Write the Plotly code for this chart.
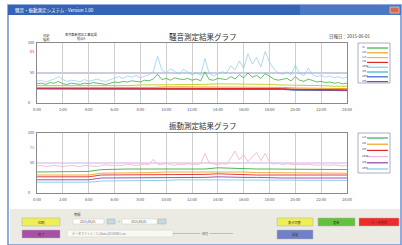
import plotly.graph_objects as go

W, H = 402, 245
FONT = "Noto Sans CJK JP"

# ---------------- data ----------------
tick_hours = [0, 2, 4, 6, 8, 10, 12, 14, 16, 18, 20, 22, 24]
tick_labels = ["0:00", "2:00", "4:00", "6:00", "8:00", "10:00", "12:00",
               "14:00", "16:00", "18:00", "20:00", "22:00", "24:00"]
hours_20min = [i / 3 for i in range(73)]
hours_1h = list(range(25))

noise_names = ["L5", "L50", "L10", "L90", "Lmax", "L95", "Lmin", "Leq"]
noise_colors = ["#3cb043", "#f0a020", "#c8d030", "#e02828", "#8cc8e8", "#30b8c8", "#4060d0", "#9040a8"]

noise_lmax = [36, 38, 35, 37, 40, 44, 39, 36, 38,
              37, 35, 39, 36, 38, 40, 37, 36, 39,
              42, 44, 41, 45, 43, 46, 42, 44, 47,
              52, 78, 55, 50, 57, 53, 48, 56, 51,
              47, 50, 46, 74, 49, 45, 48, 52, 50,
              62, 55, 70, 58, 82, 65, 76, 60, 86,
              68, 57, 50, 48, 52, 47, 63, 49, 46,
              58, 47, 44, 46, 43, 45, 42, 44, 41, 43]
noise_l5 = [32, 33, 31, 34, 33, 36, 32, 31, 33,
            32, 31, 33, 32, 34, 33, 32, 31, 33,
            35, 34, 36, 35, 37, 36, 35, 38, 37,
            40, 48, 39, 41, 38, 42, 40, 39, 41,
            38, 40, 37, 52, 39, 38, 41, 40, 39,
            44, 40, 47, 42, 50, 43, 46, 41, 49,
            45, 40, 38, 39, 41, 37, 44, 38, 36,
            40, 37, 35, 36, 34, 35, 33, 34, 32, 33]
noise_l10 = [29, 29, 28, 28, 28, 28, 29, 29, 30, 30, 31, 31, 31, 31, 32, 32, 32, 31, 31, 30, 30, 29, 29, 28, 28]
noise_l50 = [26, 26, 25, 25, 25, 25, 25, 26, 26, 26, 27, 27, 27, 27, 27, 27, 27, 26, 26, 26, 25, 25, 24, 24, 24]
noise_l90 = [25, 25, 25, 25, 25, 25, 25, 25, 25, 25, 25, 25, 25, 25, 25, 25, 25, 24, 24, 24, 23, 23, 22, 22, 22]
noise_l95 = [24, 24, 24, 24, 24, 24, 24, 24, 24, 24, 24, 24, 24, 24, 24, 24, 24, 23, 23, 23, 22, 22, 21, 21, 21]
noise_lmin = [23.5, 23.5, 23.5, 23.5, 23.5, 23.5, 23.5, 23.5, 23.5, 23.5, 23.5, 23.5, 23.5, 23.5, 23.5, 23.5, 23.5,
              22.5, 22.5, 22.5, 21.5, 21.5, 20.5, 20.5, 20.5]
noise_leq = [24, 24, 24, 24, 24, 24, 24, 24, 24, 24, 24, 24, 24, 24, 24, 24, 24, 23, 23, 23, 22, 22, 21, 21, 21]

vib_names = ["L10", "L50", "L90", "Lmax", "Leq", "Lmin"]
vib_colors = ["#3cb043", "#f0a020", "#e02828", "#f0b8d8", "#9040a8", "#80c8e8"]

vib_lmax = [45, 46, 44, 45, 46, 45, 44, 45, 46,
            45, 44, 46, 45, 45, 44, 46, 47, 46,
            46, 47, 46, 48, 47, 46, 47, 48, 47,
            56, 48, 47, 50, 47, 46, 48, 47, 49,
            48, 47, 49, 66, 50, 48, 47, 49, 48,
            58, 70, 55, 64, 52, 60, 68, 54, 66,
            52, 48, 50, 47, 49, 48, 47, 48, 47,
            48, 47, 46, 47, 46, 46, 47, 46, 45, 46]
vib_l10 = [35, 35, 35, 35, 36, 39, 40, 40, 40, 40, 40, 41, 41, 40, 42, 41, 41, 40, 40, 40, 40, 39, 39, 39, 39]
vib_l50 = [30, 30, 30, 30, 30, 33, 33, 33, 34, 34, 35, 35, 35, 36, 36, 35, 35, 34, 34, 34, 33, 33, 33, 33, 33]
vib_l90 = [27, 27, 27, 27, 27, 30, 30, 30, 30, 31, 31, 31, 31, 31, 32, 31, 31, 30, 30, 30, 30, 30, 30, 30, 30]
vib_leq = [22, 22, 22, 22, 22, 25, 25, 25, 25, 26, 26, 26, 26, 26, 27, 26, 26, 26, 25, 25, 25, 25, 25, 25, 25]
vib_lmin = [18, 18, 18, 18, 18, 20, 20, 20, 21, 21, 21, 22, 22, 22, 22, 22, 22, 22, 21, 21, 21, 21, 21, 21, 21]

noise_limit = 85
vib_limit = 75
ref_level = 50

# ---------------- helpers ----------------
def px(x):
    return x / W

def py(y):
    return 1 - y / H

fig = go.Figure()

noise_series = [noise_l5, noise_l50, noise_l10, noise_l90, noise_lmax, noise_l95, noise_lmin, noise_leq]
noise_x = [hours_20min, hours_1h, hours_1h, hours_1h, hours_20min, hours_1h, hours_1h, hours_1h]
draw_order = [6, 5, 7, 3, 1, 2, 4, 0]
for k in draw_order:
    fig.add_trace(go.Scatter(x=noise_x[k], y=noise_series[k], mode="lines",
                             name=noise_names[k],
                             line=dict(color=noise_colors[k], width=0.8 if k in (0, 4) else 1.0),
                             opacity=0.85 if k == 4 else 1.0,
                             xaxis="x", yaxis="y", showlegend=False))

vib_series = [vib_l10, vib_l50, vib_l90, vib_lmax, vib_leq, vib_lmin]
vib_x = [hours_1h, hours_1h, hours_1h, hours_20min, hours_1h, hours_1h]
for k in [5, 4, 2, 1, 0, 3]:
    fig.add_trace(go.Scatter(x=vib_x[k], y=vib_series[k], mode="lines",
                             name=vib_names[k], line=dict(color=vib_colors[k], width=0.9),
                             xaxis="x2", yaxis="y2", showlegend=False))

xdom = [px(37), px(347)]
axis_common = dict(range=[0, 24], tickvals=tick_hours, ticktext=tick_labels,
                   tickfont=dict(size=4, color="#555", family=FONT),
                   showgrid=True, gridcolor="#cfcfcf", gridwidth=0.7,
                   showline=True, linecolor="#8a8a8a", linewidth=0.8, mirror=True,
                   zeroline=False, ticks="", automargin=False, ticklabelstandoff=2)
yaxis_common = dict(range=[0, 100], tickfont=dict(size=4, color="#555", family=FONT),
                    showgrid=False, showline=True, linecolor="#8a8a8a", linewidth=0.8,
                    mirror=True, zeroline=False, ticks="", automargin=False,
                    ticklabelstandoff=1)
fig.update_layout(
    template="none",
    xaxis=dict(domain=xdom, anchor="y", **axis_common),
    xaxis2=dict(domain=xdom, anchor="y2", **axis_common),
    yaxis=dict(domain=[py(103), py(43)], anchor="x",
               tickvals=[ref_level, noise_limit, 100],
               ticktext=["50", "<span style='color:#e03030'>85</span>", "100"],
               **yaxis_common),
    yaxis2=dict(domain=[py(193), py(133)], anchor="x2",
                tickvals=[ref_level, vib_limit, 100],
                ticktext=["50", "<span style='color:#d07080'>75</span>", "100"],
                **yaxis_common),
)

shapes = []
# window frame / title bar
shapes.append(dict(type="rect", xref="paper", yref="paper", x0=px(8), x1=px(401), y0=py(245), y1=py(5),
                   line=dict(color="#6b8fd0", width=1.5), fillcolor="white", layer="below"))
shapes.append(dict(type="rect", xref="paper", yref="paper", x0=px(8), x1=px(401), y0=py(15), y1=py(5),
                   line=dict(width=0), fillcolor="#3563b5", layer="below"))
shapes.append(dict(type="rect", xref="paper", yref="paper", x0=px(300), x1=px(401), y0=py(15), y1=py(5),
                   line=dict(width=0), fillcolor="#4a78c4", layer="below"))
shapes.append(dict(type="rect", xref="paper", yref="paper", x0=px(390), x1=px(399), y0=py(13), y1=py(7),
                   line=dict(color="white", width=0.5), fillcolor="#d86a4a", layer="below"))
# reference lines at 50
shapes.append(dict(type="line", xref="x domain", yref="y", x0=0, x1=1, y0=ref_level, y1=ref_level,
                   line=dict(color="#8890b8", width=0.9), layer="below"))
shapes.append(dict(type="line", xref="x2 domain", yref="y2", x0=0, x1=1, y0=ref_level, y1=ref_level,
                   line=dict(color="#c8a8d8", width=0.9), layer="below"))
# bottom control panel
shapes.append(dict(type="rect", xref="paper", yref="paper", x0=px(10), x1=px(400), y0=py(244), y1=py(209),
                   line=dict(width=0), fillcolor="#ebebe3", layer="below"))

annotations = []

def text(x, y, s, size=4, color="#333", xanchor="center", **kw):
    annotations.append(dict(x=px(x), y=py(y), xref="paper", yref="paper", text=s, showarrow=False,
                            xanchor=xanchor, yanchor="middle",
                            font=dict(size=size, color=color, family=FONT), **kw))

# legends
def legend(top, names, colors, step):
    bottom = top + 40
    shapes.append(dict(type="rect", xref="paper", yref="paper", x0=px(358), x1=px(390), y0=py(bottom), y1=py(top),
                       line=dict(color="#9a9ab8", width=0.8), fillcolor="white"))
    for i, (n, c) in enumerate(zip(names, colors)):
        yy = top + 5 + i * step
        shapes.append(dict(type="line", xref="paper", yref="paper", x0=px(367), x1=px(388), y0=py(yy), y1=py(yy),
                           line=dict(color=c, width=1.2)))
        text(360, yy - 1, n, size=2.5, color="#444", xanchor="left")

legend(43, noise_names, noise_colors, 4.8)
legend(133, vib_names, vib_colors, 6.2)

# zero labels of the value axes (placed beside the axis corner)
text(33, 101.5, "0", size=4, color="#555", xanchor="right")
text(33, 191.5, "0", size=4, color="#555", xanchor="right")

# titles and header texts
text(13, 10, "騒音・振動測定システム - Version 1.00", size=4.5, color="white", xanchor="left")
text(203, 36, "騒音測定結果グラフ", size=7.5, color="#333")
text(203, 125.5, "振動測定結果グラフ", size=7.5, color="#333")
text(350, 36, "日報日：2015-06-01", size=4.5, color="#333")
text(41, 37, "測定<br>種別", size=3.2, color="#333", xanchor="left")
text(63, 36, "東京都新宿区工事現場<br>地点A", size=3.2, color="#333", xanchor="left")

# buttons
buttons = [
    (22, 60, 218, 226, "#eeee55", "印刷"),
    (22, 60, 230, 238, "#a850a8", "終了"),
    (277, 313, 218, 226, "#eeee55", "表示切替"),
    (318, 355, 218, 226, "#66c040", "更新"),
    (359, 399, 218, 226, "#ee2a2a", "データ削除"),
    (277, 313, 230, 239, "#7080c8", "設定"),
]
for x0, x1, y0, y1, col, lab in buttons:
    shapes.append(dict(type="rect", xref="paper", yref="paper", x0=px(x0), x1=px(x1), y0=py(y1), y1=py(y0),
                       line=dict(color="#b0b0a0", width=0.5), fillcolor=col))
    text((x0 + x1) / 2, (y0 + y1) / 2, lab, size=3.2, color="#333")

# date fields
text(72, 214, "期間", size=3.2, color="#444", xanchor="left")
for x0, x1 in [(73, 104), (122, 157)]:
    shapes.append(dict(type="rect", xref="paper", yref="paper", x0=px(x0), x1=px(x1), y0=py(224), y1=py(219),
                       line=dict(color="#c8c8c0", width=0.5), fillcolor="white"))
for x0, x1 in [(107, 115), (158, 166)]:
    shapes.append(dict(type="rect", xref="paper", yref="paper", x0=px(x0), x1=px(x1), y0=py(224), y1=py(219),
                       line=dict(color="#a0a8b0", width=0.5), fillcolor="#c8d8e0"))
text(88, 221.5, "2015/06/01", size=3, color="#555")
text(139, 221.5, "2015/06/01", size=3, color="#555")
text(118.5, 221.5, "~", size=3, color="#555")
shapes.append(dict(type="rect", xref="paper", yref="paper", x0=px(67), x1=px(173), y0=py(237), y1=py(230),
                   line=dict(color="#d0d0c8", width=0.5), fillcolor="#f8f8f4"))
text(70, 233.5, "データファイル：C:\\Data\\20150601.csv", size=3, color="#888", xanchor="left")
shapes.append(dict(type="line", xref="paper", yref="paper", x0=px(173), x1=px(233), y0=py(233.5), y1=py(233.5),
                   line=dict(color="#a0a0a0", width=0.6)))
text(205, 233.5, "日付", size=3, color="#444", bgcolor="#ebebe3")

fig.update_layout(
    width=W, height=H, margin=dict(l=0, r=0, t=0, b=0, autoexpand=False),
    paper_bgcolor="white", plot_bgcolor="white",
    shapes=shapes, annotations=annotations, showlegend=False,
    font=dict(family=FONT),
)

fig.write_html("out.html", config={"displayModeBar": False},
               post_script="document.body.style.margin='0';document.body.style.overflow='hidden';")
